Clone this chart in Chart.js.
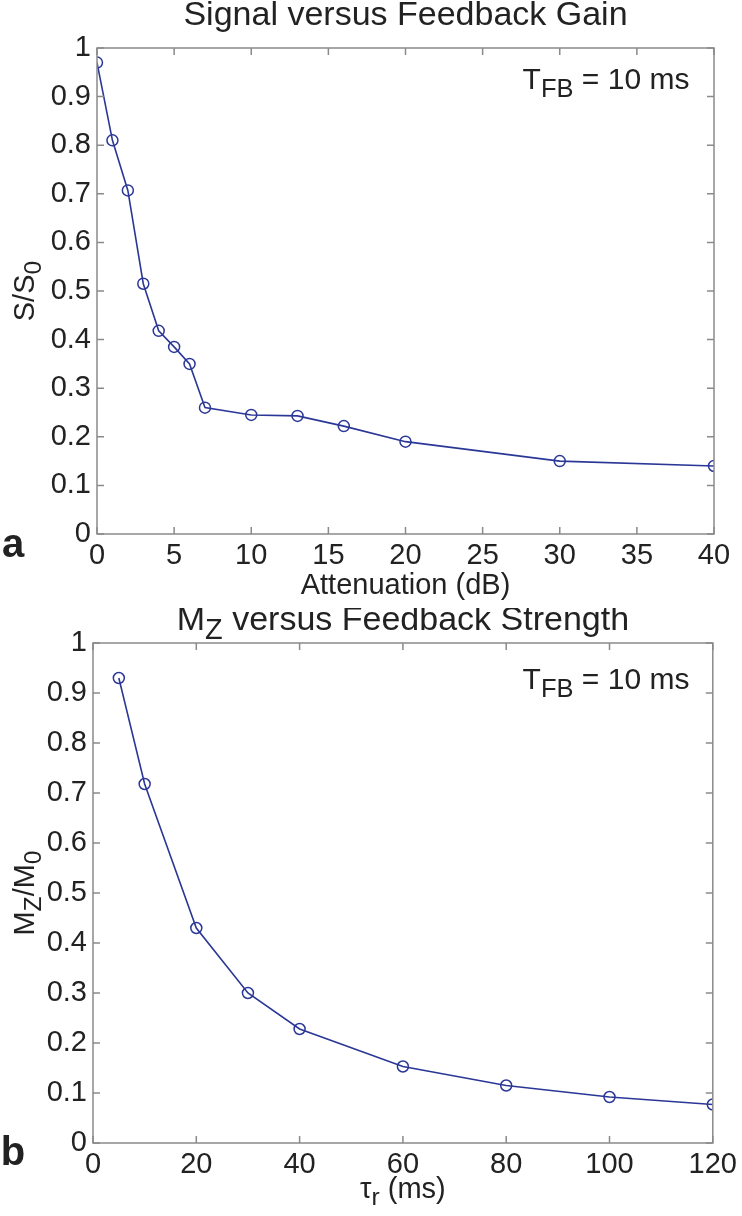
<!DOCTYPE html>
<html>
<head>
<meta charset="utf-8">
<script src="https://cdn.jsdelivr.net/npm/chart.js@4.4.0/dist/chart.umd.min.js"></script>
<style>
  html, body { margin: 0; padding: 0; background: #fff; }
  .panel { position: absolute; left: 0; width: 742px; height: 608px; }
</style>
</head>
<body>
<div class="panel" style="top:0"><canvas id="gainChart" width="742" height="608"></canvas></div>
<div class="panel" style="top:608px"><canvas id="strengthChart" width="742" height="608"></canvas></div>
<script>
// panel a : signal vs attenuation
const attenDb = [0, 1, 2, 3, 4, 5, 6, 7, 10, 13, 16, 20, 30, 40];
const signalRatio = [0.97, 0.81, 0.707, 0.515, 0.418, 0.385, 0.35, 0.26, 0.245, 0.243, 0.222, 0.19, 0.15, 0.14];
const attenTicks = [0, 5, 10, 15, 20, 25, 30, 35, 40];

// panel b : Mz vs tau_r
const tauR = [5, 10, 20, 30, 40, 60, 80, 100, 120];
const mzRatio = [0.93, 0.718, 0.43, 0.30, 0.228, 0.153, 0.115, 0.092, 0.077];
const tauTicks = [0, 20, 40, 60, 80, 100, 120];

const yTicks = [0, 0.1, 0.2, 0.3, 0.4, 0.5, 0.6, 0.7, 0.8, 0.9, 1];

const FONT = "'Liberation Sans', Arial, Helvetica, sans-serif";
const INK = '#222';
const LINE = '#2b3796';
const AXIS = '#8a8a8a';

// draw text made of pieces, some of them subscript
function richWidth(ctx, parts, size) {
  let w = 0;
  parts.forEach(p => {
    ctx.font = (p.sub ? size * 0.85 : size) + 'px ' + FONT;
    w += ctx.measureText(p.t).width;
  });
  return w;
}
function drawRich(ctx, parts, x, y, size) {
  // x is center, y is middle
  let w = richWidth(ctx, parts, size);
  let cx = x - w / 2;
  ctx.textAlign = 'left';
  ctx.textBaseline = 'middle';
  parts.forEach(p => {
    ctx.font = (p.sub ? size * 0.85 : size) + 'px ' + FONT;
    ctx.fillText(p.t, cx, p.sub ? y + size * 0.3 : y);
    cx += ctx.measureText(p.t).width;
  });
}

const boxPlugin = {
  id: 'box',
  afterDraw(chart, args, o) {
    const ctx = chart.ctx;
    const a = chart.chartArea;
    const xs = chart.scales.x, ys = chart.scales.y;
    ctx.save();
    ctx.strokeStyle = AXIS;
    ctx.lineWidth = 1.5;
    ctx.strokeRect(a.left, a.top, a.right - a.left, a.bottom - a.top);
    ctx.beginPath();
    xs.ticks.forEach(t => {
      const px = xs.getPixelForValue(t.value);
      ctx.moveTo(px, a.bottom); ctx.lineTo(px, a.bottom - 7);
      ctx.moveTo(px, a.top); ctx.lineTo(px, a.top + 7);
    });
    ys.ticks.forEach(t => {
      const py = ys.getPixelForValue(t.value);
      ctx.moveTo(a.left, py); ctx.lineTo(a.left + 7, py);
      ctx.moveTo(a.right, py); ctx.lineTo(a.right - 7, py);
    });
    ctx.stroke();

    ctx.fillStyle = INK;
    // title
    drawRich(ctx, o.title, (a.left + a.right) / 2, o.titleY, 34);
    // x label
    drawRich(ctx, o.xLabel, (a.left + a.right) / 2, o.xLabelY, 29);
    // y label, rotated
    ctx.save();
    ctx.translate(26, (a.top + a.bottom) / 2);
    ctx.rotate(-Math.PI / 2);
    drawRich(ctx, o.yLabel, 0, 0, 29);
    ctx.restore();
    // T_FB note
    drawRich(ctx, [{t: 'T'}, {t: 'FB', sub: true}, {t: ' = 10 ms'}], 606, o.noteY, 30);
    // panel letter
    ctx.font = 'bold 40px ' + FONT;
    ctx.textAlign = 'center';
    ctx.textBaseline = 'middle';
    ctx.fillText(o.letter, 13, o.letterY);
    ctx.restore();
  }
};

function makeChart(id, xs, ys, xTicks, xMax, pad, opts) {
  return new Chart(document.getElementById(id), {
    type: 'line',
    data: {
      datasets: [{
        data: xs.map((x, i) => ({x: x, y: ys[i]})),
        borderColor: LINE,
        borderWidth: 1.6,
        pointStyle: 'circle',
        pointRadius: 5.5,
        pointBorderWidth: 1.5,
        pointBorderColor: LINE,
        pointBackgroundColor: 'rgba(0,0,0,0)',
        tension: 0,
        fill: false
      }]
    },
    options: {
      responsive: false,
      animation: false,
      layout: { padding: { left: 0, top: pad.top, right: pad.right, bottom: 0 } },
      plugins: { legend: { display: false }, tooltip: { enabled: false }, box: opts },
      scales: {
        x: {
          type: 'linear', min: 0, max: xMax,
          afterBuildTicks: s => { s.ticks = xTicks.map(v => ({value: v})); },
          afterFit: s => { s.height = pad.xh; },
          grid: { display: false, drawTicks: false },
          border: { display: false },
          ticks: { color: INK, font: { family: FONT, size: 29 }, padding: 5, maxRotation: 0 }
        },
        y: {
          type: 'linear', min: 0, max: 1,
          afterBuildTicks: s => { s.ticks = yTicks.map(v => ({value: v})); },
          afterFit: s => { s.width = pad.left; },
          grid: { display: false, drawTicks: false },
          border: { display: false },
          ticks: {
            color: INK, font: { family: FONT, size: 29 }, padding: 6,
            callback: v => (v === 0 || v === 1) ? String(v) : v.toFixed(1)
          }
        }
      }
    },
    plugins: [boxPlugin]
  });
}

makeChart('gainChart', attenDb, signalRatio, attenTicks, 40,
  { top: 48, right: 28, left: 97, xh: 608 - 534 },
  {
    title: [{t: 'Signal versus Feedback Gain'}], titleY: 16,
    xLabel: [{t: 'Attenuation (dB)'}], xLabelY: 586,
    yLabel: [{t: 'S/S'}, {t: '0', sub: true}],
    noteY: 81, letter: 'a', letterY: 546
  });

makeChart('strengthChart', tauR, mzRatio, tauTicks, 120,
  { top: 35, right: 28, left: 93, xh: 608 - 535 },
  {
    title: [{t: 'M'}, {t: 'Z', sub: true}, {t: ' versus Feedback Strength'}], titleY: 13,
    xLabel: [{t: '\u03c4'}, {t: 'r', sub: true}, {t: ' (ms)'}], xLabelY: 582,
    yLabel: [{t: 'M'}, {t: 'Z', sub: true}, {t: '/M'}, {t: '0', sub: true}],
    noteY: 73, letter: 'b', letterY: 546
  });
</script>
</body>
</html>
